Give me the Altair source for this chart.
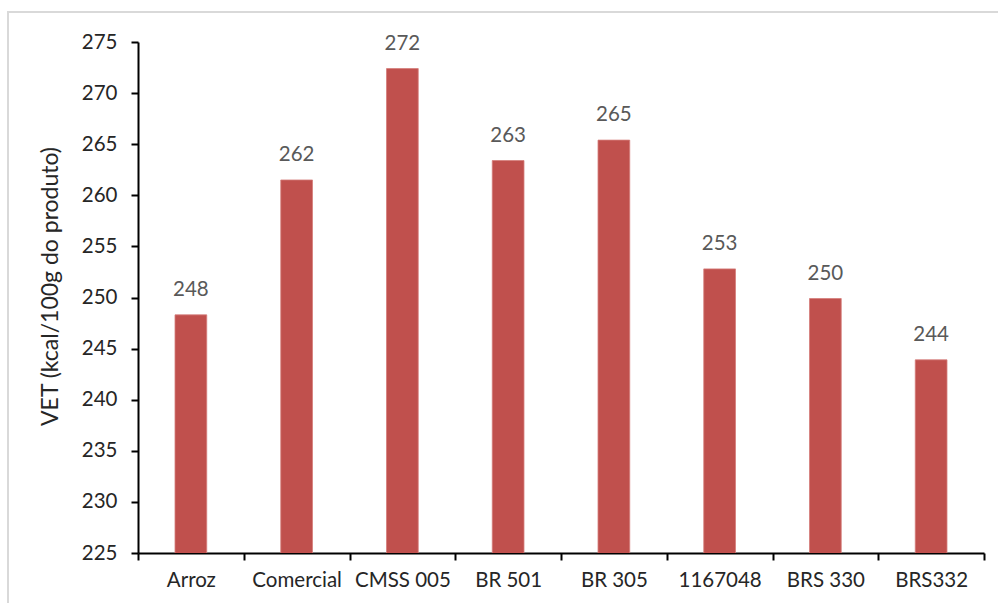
import altair as alt
import pandas as pd

# Energy value per cultivar (kcal per 100 g of product)
cultivares = ["Arroz", "Comercial", "CMSS 005", "BR 501", "BR 305", "1167048", "BRS 330", "BRS332"]
vet = [248.3, 261.5, 272.4, 263.4, 265.4, 252.8, 249.9, 243.9]

df = pd.DataFrame({"cultivar": cultivares, "vet": vet})

FONT = "Lato"
FS = 20.5
W, H = 846, 511

x_axis = alt.Axis(
    labelAngle=0,
    labelFont=FONT,
    labelFontSize=FS,
    labelColor="#262626",
    labelPadding=10,
    domainColor="#000000",
    domainWidth=2,
    ticks=True,
    tickColor="#000000",
    tickWidth=2,
    tickSize=7,
    tickBand="extent",
    grid=False,
)

x_enc = alt.X(
    "cultivar:N",
    sort=cultivares,
    title=None,
    scale=alt.Scale(paddingInner=0, paddingOuter=0),
    axis=x_axis,
)

y_enc = alt.Y(
    "vet:Q",
    title="VET (kcal/100g do produto)",
    scale=alt.Scale(domain=[225, 275], nice=False, zero=False),
    axis=alt.Axis(
        values=list(range(225, 276, 5)),
        labelFont=FONT,
        labelFontSize=FS,
        labelColor="#262626",
        labelPadding=14,
        domainColor="#000000",
        domainWidth=2,
        tickColor="#000000",
        tickWidth=2,
        tickSize=7,
        grid=False,
        titleFont=FONT,
        titleFontSize=23,
        titleFontWeight="normal",
        titleColor="#262626",
        titlePadding=19,
        titleY=244,
    ),
)

bars = alt.Chart(df).mark_bar(
    color="#C0504D", stroke="#D47C7A", strokeWidth=0.8, clip=True,
    width=alt.RelativeBandSize(0.3),
).encode(x=x_enc, y=y_enc)

labels = alt.Chart(df).mark_text(
    font=FONT, fontSize=FS, color="#595959", baseline="bottom", dy=-15
).encode(
    x=x_enc,
    y=y_enc,
    text=alt.Text("vet:Q", format=".0f"),
)

# light outer frame of the chart area
frame = alt.Chart(pd.DataFrame({"k": [0]})).mark_rect(
    fill=None, stroke="#D9D9D9", strokeWidth=2
).encode(
    x=alt.value(-130), x2=alt.value(W + 60),
    y=alt.value(-30), y2=alt.value(H + 100),
)

chart = (
    alt.layer(bars, labels, frame)
    .properties(
        width=W,
        height=H,
        autosize=alt.AutoSizeParams(type="none"),
        padding={"left": 138, "top": 42, "right": 14, "bottom": 50},
        background="white",
    )
    .configure_view(stroke=None)
)

chart.save("out.html", embed_options={"renderer": "svg", "actions": False})
